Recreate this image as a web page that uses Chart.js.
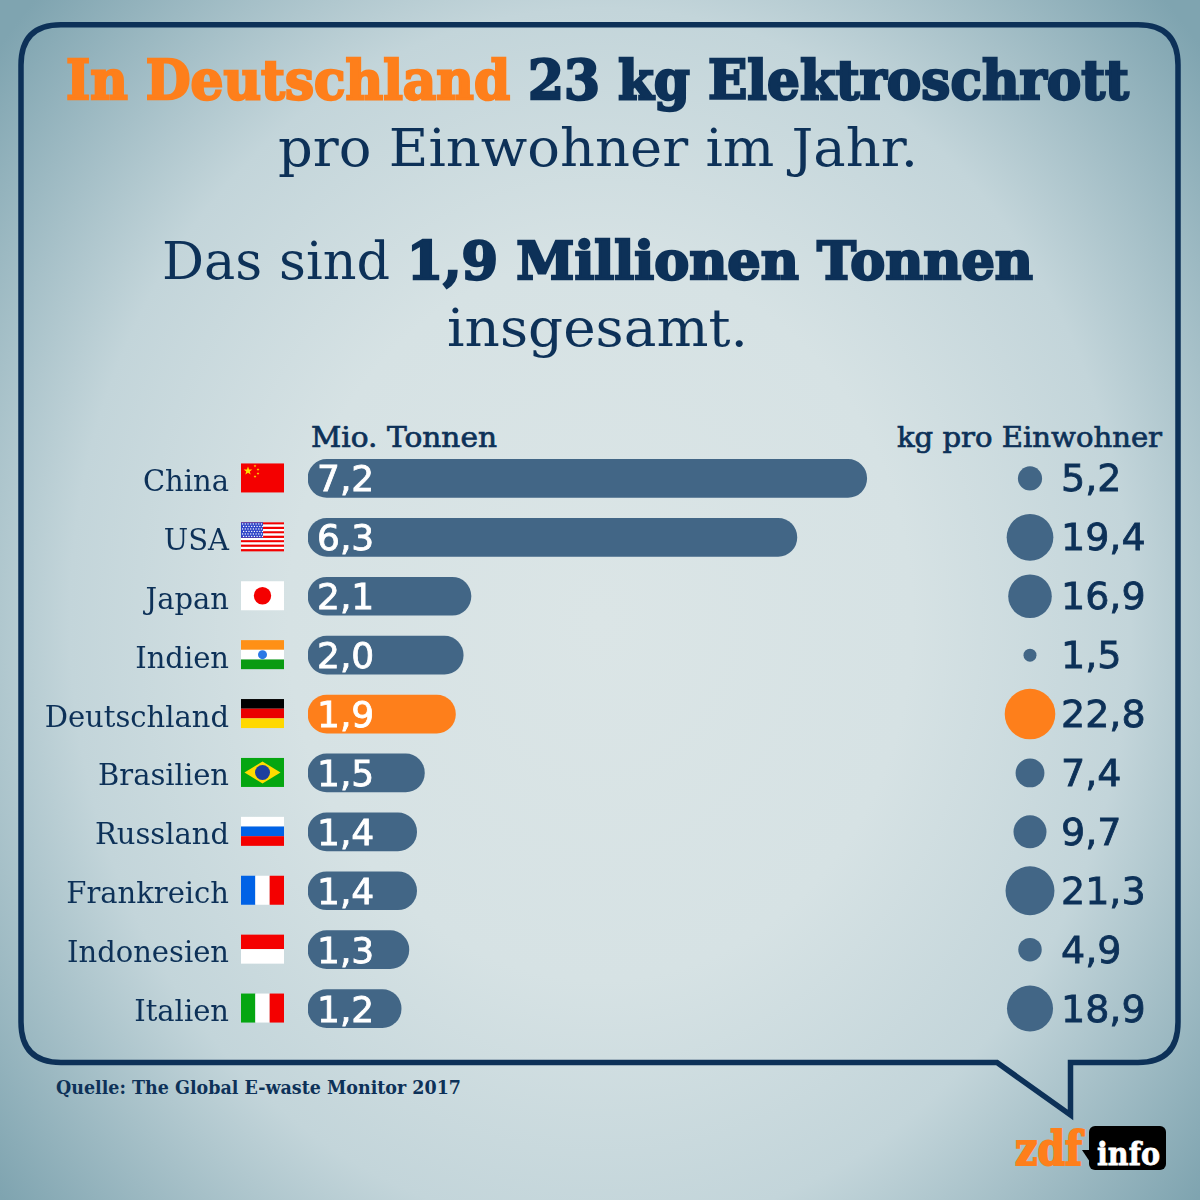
<!DOCTYPE html>
<html lang="de">
<head>
<meta charset="utf-8">
<title>Elektroschrott</title>
<script src="https://cdn.jsdelivr.net/npm/chart.js@4"></script>
<style>
  html, body { margin: 0; padding: 0; }
  body {
    width: 1200px; height: 1200px; position: relative; overflow: hidden;
    background: radial-gradient(ellipse 780px 900px at 600px 620px, #dbe5e6 0%, #d6e2e4 40%, #c3d5da 68%, #7fa4b0 100%);
  }
  svg.layer { position: absolute; left: 0; top: 0; }
  .chart { position: absolute; top: 448.5px; height: 589px; }
  #barWrap { left: 0; width: 890px; }
  #dotWrap { left: 910px; width: 240px; }
  text { font-family: "DejaVu Serif", serif; fill: #0d3158; }
  .heavy { font-weight: bold; stroke: #0d3158; stroke-width: 2.4px; }
  .heavy .hot { fill: #fe7f1b; stroke: #fe7f1b; }
  .medium { stroke: #0d3158; stroke-width: 0.7px; }
</style>
</head>
<body>
<svg class="layer" width="1200" height="1200">
  <path d="M61 24.7 H1138 Q1178 24.7 1178 65 V1022 Q1178 1062.5 1138 1062.5 H1070.5 V1115 L997 1062.5 H61 Q21 1062.5 21 1022 V65 Q21 24.7 61 24.7 Z" fill="none" stroke="#0d3158" stroke-width="5.5"/>

  <text class="heavy" x="66" y="99" font-size="54" textLength="1063" lengthAdjust="spacingAndGlyphs"><tspan class="hot">In Deutschland</tspan> 23 kg Elektroschrott</text>
  <text x="278" y="166" font-size="52" textLength="640" lengthAdjust="spacingAndGlyphs">pro Einwohner im Jahr.</text>
  <text x="162" y="279" font-size="52" textLength="871" lengthAdjust="spacingAndGlyphs">Das sind <tspan class="heavy">1,9 Millionen Tonnen</tspan></text>
  <text x="447" y="346" font-size="52" textLength="301" lengthAdjust="spacingAndGlyphs">insgesamt.</text>

  <text class="medium" x="311" y="447" font-size="28" textLength="186" lengthAdjust="spacingAndGlyphs">Mio. Tonnen</text>
  <text class="medium" x="897" y="447" font-size="28" textLength="265" lengthAdjust="spacingAndGlyphs">kg pro Einwohner</text>
  <text x="56" y="1094" font-size="19" font-weight="bold" textLength="405" lengthAdjust="spacingAndGlyphs">Quelle: The Global E-waste Monitor 2017</text>

  <text x="1015" y="1165" font-size="46" font-weight="bold" style="fill:#fe7f1b;stroke:#fe7f1b;stroke-width:2px" textLength="67" lengthAdjust="spacingAndGlyphs">zdf</text>
  <path d="M1082 1150 L1090 1150 L1090 1162 Z" fill="#000"/>
  <rect x="1089" y="1126" width="77" height="44" rx="6" fill="#000"/>
  <text x="1097" y="1165" font-size="32" font-weight="bold" style="fill:#fff;stroke:#fff;stroke-width:0.8px" textLength="63" lengthAdjust="spacingAndGlyphs">info</text>
</svg>
<div id="barWrap" class="chart"><canvas id="barChart"></canvas></div>
<div id="dotWrap" class="chart"><canvas id="dotChart"></canvas></div>

<script>
// Data
const countries = ['China', 'USA', 'Japan', 'Indien', 'Deutschland', 'Brasilien', 'Russland', 'Frankreich', 'Indonesien', 'Italien'];
const millionTons = [7.2, 6.3, 2.1, 2.0, 1.9, 1.5, 1.4, 1.4, 1.3, 1.2];
const kgPerPerson = [5.2, 19.4, 16.9, 1.5, 22.8, 7.4, 9.7, 21.3, 4.9, 18.9];
const highlight = 'Deutschland';

const BLUE = '#426686';
const ORANGE = '#fe7f1b';
const NAVY = '#0d3158';
const colors = countries.map(c => c === highlight ? ORANGE : BLUE);
const fmt = v => v.toFixed(1).replace('.', ',');

// --- Flags ---
function stripes(ctx, x, y, w, h, list, vertical) {
  list.forEach((c, i) => {
    ctx.fillStyle = c;
    if (vertical) ctx.fillRect(x + i * w / list.length, y, w / list.length, h);
    else ctx.fillRect(x, y + i * h / list.length, w, h / list.length);
  });
}
function star(ctx, cx, cy, r) {
  ctx.beginPath();
  for (let i = 0; i < 10; i++) {
    const a = -Math.PI / 2 + i * Math.PI / 5;
    const rr = i % 2 ? r * 0.42 : r;
    ctx.lineTo(cx + rr * Math.cos(a), cy + rr * Math.sin(a));
  }
  ctx.closePath();
  ctx.fill();
}
const flags = {
  China(ctx, x, y, w, h) {
    ctx.fillStyle = '#f40000';
    ctx.fillRect(x, y, w, h);
    ctx.fillStyle = '#ffde00';
    star(ctx, x + 7, y + 7.5, 4.5);
    [[14, 2.5], [17, 6], [17, 10], [14, 13]].forEach(p => star(ctx, x + p[0], y + p[1], 1.5));
  },
  USA(ctx, x, y, w, h) {
    stripes(ctx, x, y, w, h, ['#f40000', '#fff', '#f40000', '#fff', '#f40000', '#fff', '#f40000', '#fff', '#f40000', '#fff', '#f40000', '#fff', '#f40000']);
    ctx.fillStyle = '#2f45c8';
    ctx.fillRect(x, y, 22, 15.5);
    ctx.fillStyle = '#fff';
    for (let r = 0; r < 6; r++) for (let c = 0; c < 8; c++) ctx.fillRect(x + 1 + c * 2.7 + (r % 2), y + 1 + r * 2.5, 1.2, 1.2);
  },
  Japan(ctx, x, y, w, h) {
    ctx.fillStyle = '#fff';
    ctx.fillRect(x, y, w, h);
    ctx.fillStyle = '#f40000';
    ctx.beginPath();
    ctx.arc(x + w / 2, y + h / 2, 8.7, 0, Math.PI * 2);
    ctx.fill();
  },
  Indien(ctx, x, y, w, h) {
    stripes(ctx, x, y, w, h, ['#ff9016', '#fff', '#0a9b12']);
    ctx.fillStyle = '#2a78e6';
    ctx.beginPath();
    ctx.arc(x + w / 2, y + h / 2, 4.5, 0, Math.PI * 2);
    ctx.fill();
  },
  Deutschland(ctx, x, y, w, h) { stripes(ctx, x, y, w, h, ['#000', '#ea0000', '#ffd800']); },
  Brasilien(ctx, x, y, w, h) {
    ctx.fillStyle = '#05a611';
    ctx.fillRect(x, y, w, h);
    ctx.fillStyle = '#ffdc00';
    ctx.beginPath();
    ctx.moveTo(x + 3.5, y + h / 2);
    ctx.lineTo(x + w / 2, y + 3.5);
    ctx.lineTo(x + w - 3.5, y + h / 2);
    ctx.lineTo(x + w / 2, y + h - 3.5);
    ctx.closePath();
    ctx.fill();
    ctx.fillStyle = '#1d3f9e';
    ctx.beginPath();
    ctx.arc(x + w / 2, y + h / 2, 7.5, 0, Math.PI * 2);
    ctx.fill();
  },
  Russland(ctx, x, y, w, h) { stripes(ctx, x, y, w, h, ['#fff', '#0062e6', '#f40000']); },
  Frankreich(ctx, x, y, w, h) { stripes(ctx, x, y, w, h, ['#0062e6', '#fff', '#f40000'], true); },
  Indonesien(ctx, x, y, w, h) { stripes(ctx, x, y, w, h, ['#f40000', '#fff']); },
  Italien(ctx, x, y, w, h) { stripes(ctx, x, y, w, h, ['#05a611', '#fff', '#f40000'], true); }
};

// Flags beside the axis labels, values inside the bars
const barExtras = {
  id: 'barExtras',
  afterDraw(chart) {
    const { ctx, scales } = chart;
    ctx.save();
    countries.forEach((c, i) => {
      const y = scales.y.getPixelForValue(i);
      flags[c](ctx, 241, y - 15, 43, 29);
      ctx.fillStyle = '#fff';
      ctx.strokeStyle = '#fff';
      ctx.lineWidth = 0.8;
      ctx.font = '36px "DejaVu Sans"';
      ctx.textBaseline = 'alphabetic';
      ctx.fillText(fmt(millionTons[i]), 317, y + 13);
      ctx.strokeText(fmt(millionTons[i]), 317, y + 13);
    });
    ctx.restore();
  }
};

// Values to the right of the circles
const dotLabels = {
  id: 'dotLabels',
  afterDraw(chart) {
    const { ctx, scales } = chart;
    ctx.save();
    ctx.fillStyle = NAVY;
    ctx.strokeStyle = NAVY;
    ctx.lineWidth = 0.8;
    ctx.font = '38px "DejaVu Sans"';
    countries.forEach((c, i) => {
      const y = scales.y.getPixelForValue(c);
      ctx.fillText(fmt(kgPerPerson[i]), scales.x.getPixelForValue(0) + 31, y + 13);
      ctx.strokeText(fmt(kgPerPerson[i]), scales.x.getPixelForValue(0) + 31, y + 13);
    });
    ctx.restore();
  }
};

new Chart(document.getElementById('barChart'), {
  type: 'bar',
  data: {
    labels: countries,
    datasets: [{
      data: millionTons,
      backgroundColor: colors,
      barThickness: 38,
      borderRadius: 19,
      borderSkipped: false
    }]
  },
  options: {
    indexAxis: 'y',
    responsive: true,
    maintainAspectRatio: false,
    animation: false,
    layout: { padding: 0 },
    plugins: { legend: { display: false }, tooltip: { enabled: false } },
    scales: {
      x: { min: 0, max: 7.5, display: false },
      y: {
        // tick padding leaves room for the flags, but should not shrink the rows
        afterFit(axis) { axis.width = 308; axis.paddingTop = 0; axis.paddingBottom = 0; },
        grid: { display: false, drawTicks: false },
        border: { display: false },
        ticks: { color: NAVY, padding: 79, labelOffset: 5, font: { family: '"DejaVu Serif"', size: 29 } }
      }
    }
  },
  plugins: [barExtras]
});

new Chart(document.getElementById('dotChart'), {
  type: 'bubble',
  data: {
    labels: countries,
    datasets: [{
      data: countries.map((c, i) => ({ x: 0, y: c, r: 5.3 * Math.sqrt(kgPerPerson[i]) })),
      backgroundColor: colors,
      borderWidth: 0,
      clip: false
    }]
  },
  options: {
    responsive: true,
    maintainAspectRatio: false,
    animation: false,
    layout: { padding: 0, autoPadding: false },
    plugins: { legend: { display: false }, tooltip: { enabled: false } },
    scales: {
      x: { type: 'linear', min: -1, max: 1, display: false },
      y: { type: 'category', labels: countries, offset: true, display: false }
    }
  },
  plugins: [dotLabels]
});
</script>
</body>
</html>
